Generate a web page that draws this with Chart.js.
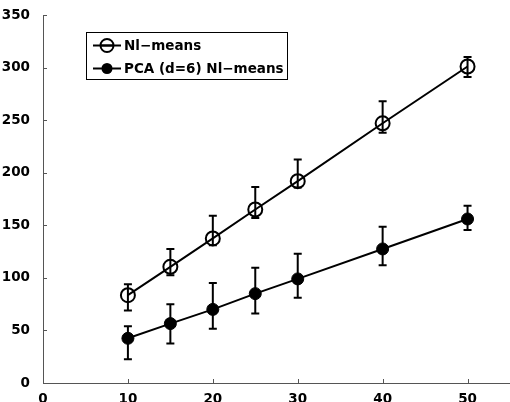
<!DOCTYPE html>
<html>
<head>
  <title>NL-means timing</title>
  <script src="https://cdn.jsdelivr.net/npm/chart.js"></script>
  <style>
    body { margin: 0; background: #fff; }
  </style>
</head>
<body>
  <canvas id="timeChart" width="510" height="402"></canvas>

  <script>
    // values
    const xs = [10, 15, 20, 25, 30, 40, 50];
    const nlMean = [83.5, 110.5, 137.5, 165, 192, 247, 301];
    const nlLow  = [69, 102.5, 131, 157, 186, 238, 291];
    const nlHigh = [94, 127.5, 159, 186.5, 212.5, 268, 310];
    const pcaMean = [42.5, 56.5, 70, 85, 99, 127.5, 156];
    const pcaLow  = [22.5, 37.5, 51.5, 66, 81, 112, 145.5];
    const pcaHigh = [54, 75, 95, 109.5, 123, 148.5, 168.5];
    const legendNames = ['Nl\u2212means', 'PCA (d=6) Nl\u2212means'];

    const font = { family: 'DejaVu Sans, sans-serif', size: 13.5, weight: 'bold' };
    const toXY = (vals) => xs.map((x, i) => ({ x: x, y: vals[i] }));

    const errorBars = {
      id: 'errorBars',
      beforeDatasetsDraw(chart) {
        const c = chart.ctx, xS = chart.scales.x, yS = chart.scales.y;
        c.save();
        c.strokeStyle = '#000';
        c.lineWidth = 2;
        [[nlLow, nlHigh], [pcaLow, pcaHigh]].forEach(([lo, hi]) => {
          xs.forEach((x, i) => {
            const px = xS.getPixelForValue(x);
            const y1 = yS.getPixelForValue(lo[i]);
            const y2 = yS.getPixelForValue(hi[i]);
            c.beginPath();
            c.moveTo(px, y1); c.lineTo(px, y2);
            c.moveTo(px - 4, y1); c.lineTo(px + 4, y1);
            c.moveTo(px - 4, y2); c.lineTo(px + 4, y2);
            c.stroke();
          });
        });
        c.restore();
      }
    };

    // inward tick marks, like the original plot
    const innerTicks = {
      id: 'innerTicks',
      afterDraw(chart) {
        const c = chart.ctx, a = chart.chartArea;
        const xS = chart.scales.x, yS = chart.scales.y;
        c.save();
        c.strokeStyle = '#555';
        c.lineWidth = 1;
        c.beginPath();
        xS.ticks.forEach(t => {
          const px = Math.round(xS.getPixelForValue(t.value)) + 0.5;
          c.moveTo(px, a.bottom); c.lineTo(px, a.bottom - 4);
        });
        yS.ticks.forEach(t => {
          const py = Math.round(yS.getPixelForValue(t.value)) + 0.5;
          c.moveTo(a.left, py); c.lineTo(a.left + 4, py);
        });
        c.stroke();
        c.restore();
      }
    };

    const boxLegend = {
      id: 'boxLegend',
      afterDraw(chart) {
        const c = chart.ctx;
        c.save();
        c.fillStyle = '#fff';
        c.fillRect(86, 32, 201, 47);
        c.strokeStyle = '#000';
        c.lineWidth = 1;
        c.strokeRect(86.5, 32.5, 201, 47);
        c.font = 'bold 13.5px DejaVu Sans, sans-serif';
        c.textBaseline = 'middle';
        const rows = [45.5, 68.5];
        rows.forEach((y, i) => {
          c.strokeStyle = '#000';
          c.lineWidth = 2;
          c.beginPath();
          c.moveTo(93, y); c.lineTo(121, y);
          c.stroke();
          c.beginPath();
          if (i === 0) {
            c.fillStyle = '#fff';
            c.arc(107, y, 6.5, 0, Math.PI * 2);
            c.stroke();
            c.beginPath();
            c.moveTo(100, y); c.lineTo(114, y);
            c.stroke();
          } else {
            c.fillStyle = '#000';
            c.arc(107, y, 5.5, 0, Math.PI * 2);
            c.fill();
          }
          c.fillStyle = '#000';
          c.fillText(legendNames[i], 124, y + 1);
        });
        c.restore();
      }
    };

    new Chart(document.getElementById('timeChart').getContext('2d'), {
      type: 'line',
      data: {
        datasets: [{
          label: legendNames[0],
          data: toXY(nlMean),
          borderColor: '#000',
          borderWidth: 2,
          pointRadius: 7,
          pointBorderWidth: 2,
          pointBorderColor: '#000',
          pointBackgroundColor: 'rgba(0,0,0,0)',
          tension: 0
        }, {
          label: legendNames[1],
          data: toXY(pcaMean),
          borderColor: '#000',
          borderWidth: 2,
          pointRadius: 6,
          pointBorderWidth: 1,
          pointBorderColor: '#000',
          pointBackgroundColor: '#000',
          tension: 0
        }]
      },
      options: {
        responsive: false,
        animation: false,
        layout: { autoPadding: false, padding: { top: 15, right: 0, left: 0, bottom: 0 } },
        plugins: { legend: { display: false }, tooltip: { enabled: false } },
        scales: {
          x: {
            type: 'linear',
            min: 0, max: 55,
            grid: { display: false },
            border: { display: true, color: '#555', width: 1 },
            ticks: { stepSize: 10, includeBounds: false, color: '#000', font: font, padding: 0, maxRotation: 0 },
            afterFit(s) { s.height = 19; s.paddingLeft = 0; s.paddingRight = 0; }
          },
          y: {
            min: 0, max: 350,
            grid: { display: false },
            border: { display: true, color: '#555', width: 1 },
            ticks: { stepSize: 50, color: '#000', font: font, padding: 5 },
            afterFit(s) { s.width = 43; s.paddingTop = 0; s.paddingBottom = 0; }
          }
        }
      },
      plugins: [errorBars, innerTicks, boxLegend]
    });
  </script>
</body>
</html>
